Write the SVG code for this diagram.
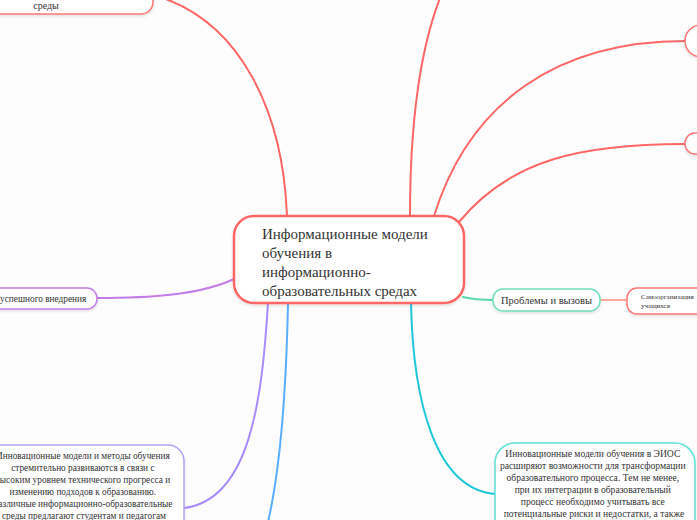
<svg xmlns="http://www.w3.org/2000/svg" width="697" height="520" viewBox="0 0 697 520">
<defs>
<filter id="sh" x="-20%" y="-20%" width="140%" height="140%">
<feDropShadow dx="0" dy="1.5" stdDeviation="1.5" flood-color="#000" flood-opacity="0.12"/>
</filter>
<style>
.c{fill:none;stroke-width:2;stroke-linecap:round}
.n{fill:#fff;filter:url(#sh)}
.t{font-family:"Liberation Serif","Times New Roman",serif;fill:#333}
.s{text-anchor:middle}
</style>
</defs>
<rect width="697" height="520" fill="#fdfdfd"/>
<g id="connectors">
<path class="c" stroke="#f66" d="M287,216 C283,110 240,25 163,-2"/>
<path class="c" stroke="#f66" d="M410,216 C410,120 420,50 440,-2"/>
<path class="c" stroke="#f66" d="M434,216 C470,100 560,41 685,41"/>
<path class="c" stroke="#f66" d="M459,222 C510,160 580,144 685,144"/>
<path class="c" stroke="#c37ce8" d="M234,279 C200,295 150,298 97,298"/>
<path class="c" stroke="#58d9aa" d="M463,297 C475,300 485,300 493,300"/>
<path class="c" stroke="#ffa9a0" d="M600,300 L627,300"/>
<path class="c" stroke="#a88cff" d="M268,303 C262,400 250,500 184,508"/>
<path class="c" stroke="#5aaeff" d="M288,303 C286,400 280,470 268,522"/>
<path class="c" stroke="#1fc8d8" d="M411,303 C413,400 435,490 496,494"/>
</g>
<g id="node-top-left">
<rect class="n" x="-50" y="-30" width="203" height="44" rx="12" stroke="#f77" stroke-width="1.5"/>
<text class="t s" font-size="10" x="46" y="8.5">среды</text>
</g>
<g id="node-top-right-1">
<rect class="n" x="685" y="25" width="40" height="32" rx="16" stroke="#f77" stroke-width="1.5"/>
</g>
<g id="node-top-right-2">
<rect class="n" x="685" y="133" width="40" height="21" rx="10" stroke="#f77" stroke-width="1.5"/>
</g>
<g id="node-central">
<rect class="n" x="234" y="216" width="230" height="87" rx="20" stroke="#f66" stroke-width="2.5"/>
<text class="t" font-size="15" x="262">
<tspan x="262" y="239">Информационные модели</tspan>
<tspan x="262" y="258">обучения в</tspan>
<tspan x="262" y="277">информационно-</tspan>
<tspan x="262" y="296">образовательных средах</tspan>
</text>
</g>
<g id="node-left">
<rect class="n" x="-40" y="288" width="137" height="21" rx="10" stroke="#c37ce8" stroke-width="1.5"/>
<text class="t" font-size="9.3" x="0" y="302">успешного внедрения</text>
</g>
<g id="node-problems">
<rect class="n" x="493" y="289" width="107" height="22" rx="10" stroke="#6fe0b8" stroke-width="1.5"/>
<text class="t s" font-size="10.5" x="546.5" y="303.5">Проблемы и вызовы</text>
</g>
<g id="node-self">
<rect class="n" x="627" y="288" width="90" height="26" rx="10" stroke="#f77" stroke-width="1.5"/>
<text class="t" font-size="7" x="641" y="298.5">Самоорганизация</text>
<text class="t" font-size="7" x="641" y="307.5">учащихся</text>
</g>
<g id="node-bottom-left">
<rect class="n" x="-20" y="445" width="204" height="100" rx="16" stroke="#b0a4f5" stroke-width="1.5"/>
<text class="t s" font-size="9.3">
<tspan x="84" y="459">Инновационные модели и методы обучения</tspan>
<tspan x="84" y="471">стремительно развиваются в связи с</tspan>
<tspan x="84" y="483">высоким уровнем технического прогресса и</tspan>
<tspan x="84" y="495">изменению подходов к образованию.</tspan>
<tspan x="84" y="507">Различные информационно-образовательные</tspan>
<tspan x="84" y="519">среды предлагают студентам и педагогам</tspan>
</text>
</g>
<g id="node-bottom-right">
<rect class="n" x="495" y="443" width="200" height="100" rx="20" stroke="#5fe0d8" stroke-width="1.5"/>
<text class="t s" font-size="9.6">
<tspan x="594" y="457">Инновационные модели обучения в ЭИОС</tspan>
<tspan x="594" y="469">расширяют возможности для трансформации</tspan>
<tspan x="594" y="481">образовательного процесса. Тем не менее,</tspan>
<tspan x="594" y="493">при их интеграции в образовательный</tspan>
<tspan x="594" y="505">процесс необходимо учитывать все</tspan>
<tspan x="594" y="517">потенциальные риски и недостатки, а также</tspan>
</text>
</g>
</svg>
